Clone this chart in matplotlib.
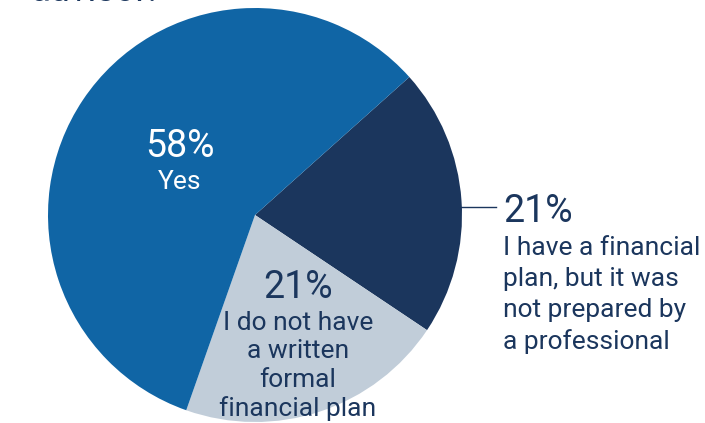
import matplotlib.pyplot as plt

# Data
labels = ["I have a financial\nplan, but it was\nnot prepared by\na professional",
          "I do not have\na written\nformal\nfinancial plan",
          "Yes"]
values = [21, 21, 58]
colors = ["#1B365D", "#C1CDD9", "#1065A5"]

plt.rcParams['font.family'] = ['Roboto', 'DejaVu Sans']
navy = "#1B365D"

fig = plt.figure(figsize=(7.05, 4.23), dpi=100)
ax = fig.add_axes([0, 0, 1, 1])

cx, cy, r = 255, 423 - 215, 207
ax.pie(values, colors=colors, startangle=41.8, counterclock=False,
       center=(cx, cy), radius=r, frame=True,
       wedgeprops=dict(linewidth=0))
ax.set_xlim(0, 705)
ax.set_ylim(0, 423)
ax.set_aspect('equal')
ax.axis('off')

# cut-off title at the top
fig.text(30 / 705, 1 - 1 / 423, "advisor.", fontsize=26, color=navy,
         ha='left', va='baseline')

# Yes slice
ax.text(180, 423 - 146, f"{values[2]}%", fontsize=27, color='white',
        ha='center', va='center')
ax.text(180, 423 - 182, labels[2], fontsize=19, color='white',
        ha='center', va='center')

# right slice with leader line
ax.plot([428, 496], [423 - 207, 423 - 207], color=navy, lw=1, zorder=5)
ax.text(503, 423 - 211, f"{values[0]}%", fontsize=27, color=navy,
        ha='left', va='center')
ax.text(503, 423 - 236, labels[0], fontsize=19, color=navy,
        ha='left', va='top', linespacing=1.36)

# grey slice
ax.text(298, 423 - 288, f"{values[1]}%", fontsize=27, color=navy,
        ha='center', va='center')
ax.text(298, 423 - 311, labels[1], fontsize=19, color=navy,
        ha='center', va='top', linespacing=1.23)

fig.savefig("out.png", dpi=100)
